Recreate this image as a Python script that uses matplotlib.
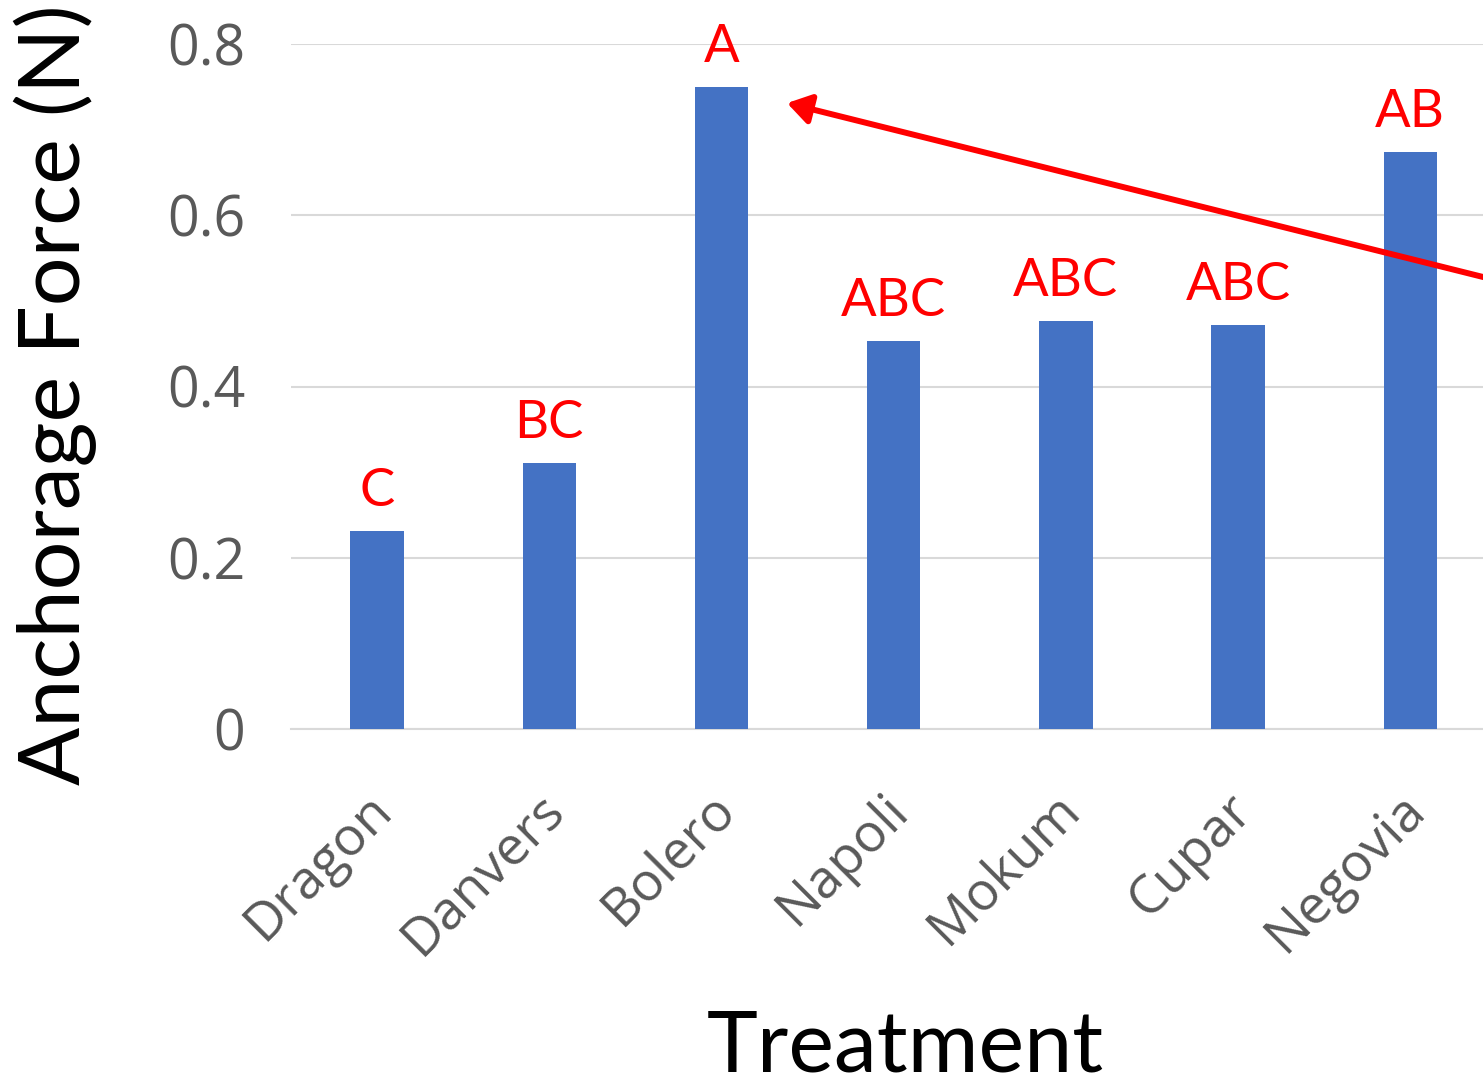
import matplotlib
matplotlib.use("Agg")
import matplotlib.pyplot as plt
import matplotlib.transforms as mtransforms
from matplotlib.patches import FancyArrowPatch

treatments = ["Dragon", "Danvers", "Bolero", "Napoli", "Mokum", "Cupar", "Negovia"]
force = [0.231, 0.311, 0.750, 0.453, 0.476, 0.472, 0.674]
letters = ["C", "BC", "A", "ABC", "ABC", "ABC", "AB"]
yticks = [0, 0.2, 0.4, 0.6, 0.8]
ytick_labels = ["0", "0.2", "0.4", "0.6", "0.8"]

W, H = 1483, 1088
fig = plt.figure(figsize=(W / 100, H / 100), dpi=100)
ax = fig.add_axes([291 / W, 1 - 729 / H, 1 - 291 / W, (729 - 44) / H])

x = list(range(len(treatments)))
ax.bar(x, force, width=0.31, color="#4472C4", zorder=3)
ax.set_xlim(-0.5, (W - 377) / 172.2)
ax.set_ylim(0, 0.8)

ax.set_yticks(yticks)
ax.set_yticklabels(ytick_labels, family="Open Sans", fontsize=40, color="#595959")
ax.set_xticks(x)
ax.set_xticklabels([])
ax.tick_params(axis="y", length=0, pad=33)
ax.tick_params(axis="x", length=0)
ax.grid(axis="y", color="#D9D9D9", linewidth=1.5, zorder=0)
for s in ["top", "right", "left"]:
    ax.spines[s].set_visible(False)
ax.spines["bottom"].set_color("#D9D9D9")
ax.spines["bottom"].set_linewidth(1.5)

# category labels (rotated), placed below each category position
offset = mtransforms.ScaledTranslation(-12 / 100, -54 / 100, fig.dpi_scale_trans)
for xi, name in zip(x, treatments):
    ax.text(xi, 0, name, transform=ax.get_xaxis_transform() + offset,
            rotation=45, ha="right", va="top", rotation_mode="anchor",
            family="Open Sans", fontsize=38.5, color="#595959", clip_on=False)

for xi, v, lab in zip(x, force, letters):
    ax.annotate(lab, (xi, v), xytext=(0, 18), textcoords="offset points",
                ha="center", va="baseline", color="red", fontsize=38,
                family="Lato", annotation_clip=False)

fig.text(55 / W, 1 - 395 / H, "Anchorage Force (N)", rotation=90, ha="center",
         va="center", fontsize=62, family="Lato", color="black")
fig.text(905 / W, 1 - 1071 / H, "Treatment", ha="center", va="baseline",
         fontsize=62, family="Lato", color="black")

arrow = FancyArrowPatch((6.6, 0.519), (2.381, 0.731),
                        arrowstyle="-|>,head_length=1.4,head_width=0.9",
                        mutation_scale=10, color="red", lw=4.3, clip_on=False,
                        shrinkA=0, shrinkB=0, zorder=5)
ax.add_patch(arrow)

fig.savefig("out.png", dpi=100)
